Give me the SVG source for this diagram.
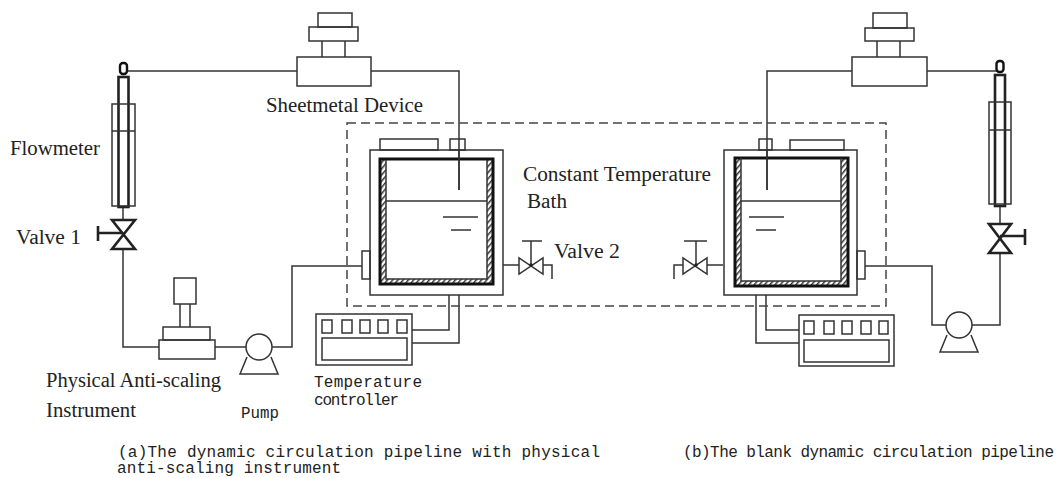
<svg xmlns="http://www.w3.org/2000/svg" width="1057" height="478" viewBox="0 0 1057 478">
<style>
.l{fill:none;stroke:#333;stroke-width:1.5}
.b{fill:#fff;stroke:#333;stroke-width:1.5}
.t{fill:none;stroke:#222;stroke-width:2.6}
.k{fill:none;stroke:#111;stroke-width:3}
.o{fill:none;stroke:#111;stroke-width:2.4}
.d{fill:none;stroke:#444;stroke-width:1.5;stroke-dasharray:9 5}
.s{font-family:"Liberation Serif",serif;font-size:20px;fill:#222}
.m{font-family:"Liberation Mono",monospace;font-size:16px;fill:#222}
</style>
<defs>
<pattern id="h" width="4" height="4" patternUnits="userSpaceOnUse" patternTransform="rotate(40)">
<rect width="4" height="4" fill="#fff"/><rect width="1.500" height="4" fill="#333"/>
</pattern>
</defs>
<rect width="1057" height="478" fill="#fff"/>
<g id="connectors">
<path class="l" d="M128 71H297M371 71H459V190"/>
<path class="l" d="M123 207V219M123 250V347H159M215 347H246M272 347H292V266H362"/>
<path class="l" d="M767 190V71H852M927 71H997"/>
<path class="l" d="M1000 206V224M1000 253V325H972M946 325H932V266H865"/>
<path class="l" d="M449 295V330H412M459 295V343H412"/>
<path class="l" d="M766 295V330H799M756 295V343H799"/>
<path class="l" d="M503 265H519M543 265H552V279"/>
<path class="l" d="M723 265H707M683 265H674V279"/>
</g>
<g id="bath-enclosure"><rect class="d" x="347" y="123" width="539" height="183"/></g>
<g id="flowmeter-a">
<rect class="o" x="120" y="63" width="7" height="11" rx="3"/>
<rect class="t" x="118.500" y="77" width="10" height="130"/>
<path class="l" d="M112 104H135V206H112ZM112 131H135"/>
</g>
<g id="valve-1">
<path class="t" d="M112 220H135L112 249H135Z"/>
<path class="t" d="M98 226V241M98 233H123"/>
</g>
<g id="sheetmetal-device-a">
<rect class="l" x="318" y="13" width="34" height="14"/>
<rect class="l" x="309" y="27" width="49" height="14"/>
<path class="l" d="M322 41V57M345 41V57"/>
<rect class="l" x="297" y="57" width="74" height="29"/>
</g>
<g id="instrument">
<rect class="l" x="174" y="278" width="22" height="26"/>
<path class="l" d="M180 304V327M190 304V327"/>
<rect class="l" x="163" y="327" width="47" height="13"/>
<rect class="l" x="159" y="340" width="56" height="19"/>
</g>
<g id="pump-a">
<path class="l" d="M247 357L240 374H278L271 357"/>
<circle class="b" cx="259" cy="347" r="13"/>
</g>
<g id="tank-a">
<rect class="l" x="380" y="139" width="58" height="11"/>
<rect class="l" x="450" y="139" width="15" height="11"/>
<rect class="l" x="362" y="251" width="8" height="28"/>
<rect class="l" x="370" y="150" width="133" height="145"/>
<path fill="url(#h)" fill-rule="evenodd" d="M379 159H494V285H379ZM386 160V279H487V160Z"/>
<rect class="k" x="380" y="159" width="113" height="125"/>
<path class="l" d="M386 160V279H487V160M386 201H487M443 217H478M451 230H471M459 150V190"/>
</g>
<g id="valve-2">
<path class="l" d="M519 258V274L543 258V274Z"/>
<path class="l" d="M531 241V266M522 241H542"/>
<circle cx="531" cy="265" r="1.800" fill="#222"/>
</g>
<g id="controller-a">
<rect class="l" x="316" y="314" width="96" height="51"/>
<rect class="l" x="322" y="320" width="10" height="13"/>
<rect class="l" x="342" y="320" width="10" height="13"/>
<rect class="l" x="360" y="320" width="10" height="13"/>
<rect class="l" x="378" y="320" width="10" height="13"/>
<rect class="l" x="397" y="320" width="10" height="13"/>
<rect class="l" x="322" y="338" width="85" height="22"/>
</g>
<g id="tank-b">
<rect class="l" x="790" y="140" width="54" height="10"/>
<rect class="l" x="759" y="139" width="13" height="11"/>
<rect class="l" x="857" y="251" width="8" height="28"/>
<rect class="l" x="724" y="150" width="133" height="145"/>
<path fill="url(#h)" fill-rule="evenodd" d="M734 157H849V287H734ZM741 158V281H841V158Z"/>
<rect class="k" x="735" y="158" width="113" height="128"/>
<path class="l" d="M741 158V281H841V158M741 201H841M749 217H784M756 230H776M767 150V190"/>
</g>
<g id="valve-3">
<path class="l" d="M683 258V274L707 258V274Z"/>
<path class="l" d="M696 241V266M684 241H707"/>
<circle cx="696" cy="265" r="1.800" fill="#222"/>
</g>
<g id="controller-b">
<rect class="l" x="799" y="315" width="95" height="51"/>
<rect class="l" x="804" y="321" width="10" height="13"/>
<rect class="l" x="824" y="321" width="10" height="13"/>
<rect class="l" x="842" y="321" width="10" height="13"/>
<rect class="l" x="861" y="321" width="10" height="13"/>
<rect class="l" x="879" y="321" width="9" height="13"/>
<rect class="l" x="804" y="340" width="85" height="22"/>
</g>
<g id="sheetmetal-device-b">
<rect class="l" x="873" y="13" width="34" height="15"/>
<rect class="l" x="865" y="28" width="49" height="13"/>
<path class="l" d="M877 41V57M900 41V57"/>
<rect class="l" x="852" y="57" width="75" height="29"/>
</g>
<g id="flowmeter-b">
<rect class="o" x="996.500" y="61" width="7" height="11" rx="3"/>
<rect class="t" x="995" y="75" width="10" height="131"/>
<path class="l" d="M989 102H1011V204H989ZM989 130H1011"/>
</g>
<g id="valve-4">
<path class="t" d="M989 224H1011L989 253H1011Z"/>
<path class="t" d="M1025 229V245M1025 236H1000"/>
</g>
<g id="pump-b">
<path class="l" d="M947 335L940 352H978L971 335"/>
<circle class="b" cx="959" cy="325" r="13"/>
</g>
<g id="labels">
<text class="s" x="266" y="112" textLength="157" lengthAdjust="spacingAndGlyphs">Sheetmetal Device</text>
<text class="s" x="10" y="155" textLength="90" lengthAdjust="spacingAndGlyphs">Flowmeter</text>
<text class="s" x="16" y="244" textLength="65" lengthAdjust="spacingAndGlyphs">Valve 1</text>
<text class="s" x="523" y="181" textLength="188" lengthAdjust="spacingAndGlyphs">Constant Temperature</text>
<text class="s" x="527" y="208" textLength="40" lengthAdjust="spacingAndGlyphs">Bath</text>
<text class="s" x="554" y="258" textLength="66" lengthAdjust="spacingAndGlyphs">Valve 2</text>
<text class="s" x="46" y="387" textLength="175" lengthAdjust="spacingAndGlyphs">Physical Anti-scaling</text>
<text class="s" x="46" y="417" textLength="90" lengthAdjust="spacingAndGlyphs">Instrument</text>
<text class="m" x="241" y="418" textLength="38" lengthAdjust="spacingAndGlyphs">Pump</text>
<text class="m" x="314" y="387" textLength="108">Temperature</text>
<text class="m" x="314" y="405" textLength="85">controller</text>
<text class="m" x="118" y="457" textLength="482">(a)The dynamic circulation pipeline with physical</text>
<text class="m" x="117" y="473" textLength="224">anti-scaling instrument</text>
<text class="m" x="683" y="457" textLength="371">(b)The blank dynamic circulation pipeline</text>
</g>
</svg>
